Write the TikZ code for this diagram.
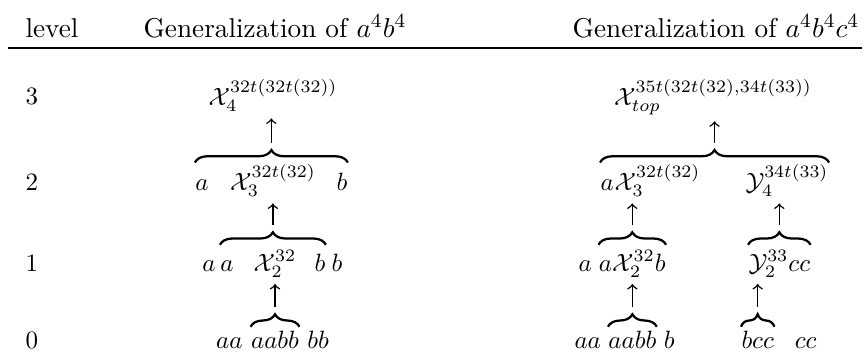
\documentclass[tikz,border=0pt]{standalone}
\usepackage{amsmath, amssymb}
\usetikzlibrary{positioning, decorations.pathreplacing}
\tikzset{
  cell/.style={inner sep=0pt, anchor=base},
  headCell/.style={cell, font=\fontsize{10.9}{13}\selectfont},
  braceTop/.style={decorate, decoration={brace, amplitude=5pt}, line width=0.9pt},
  upArrow/.style={->, semithick, shorten >=2.5pt}
}

\begin{document}
\begin{tikzpicture}[x=0.4pt, y=-0.4pt]
  \useasboundingbox (0,0) rectangle (864,354);
  % header
  \node[headCell, anchor=base west] (lvl) at (25,37) {level};
  \node[headCell] (headL) at (275,37) {Generalization of $a^4b^4$};
  \node[headCell] (headR) at (716,37) {Generalization of $a^4b^4c^4$};
  \draw[line width=0.9pt] (8,48) -- (862,48);

  % level numbers
  \foreach \lv/\yy in {3/104, 2/190, 1/271, 0/348}
    \node[cell, anchor=base west] (num\lv) at (25,\yy) {\lv};

  % left column
  \node[cell] (xFour) at (273,105) {$\mathcal{X}_4^{32t(32t(32))}$};
  \node[cell] (xThree) at (273,190) {$\mathcal{X}_3^{32t(32)}$};
  \node[cell] (aTwo) at (202,190) {$a$};
  \node[cell] (bTwo) at (342,190) {$b$};
  \node[cell] (xTwo) at (275,271) {$\mathcal{X}_2^{32}$};
  \node[cell] (aOneA) at (209,271) {$a$};
  \node[cell] (aOneB) at (227,271) {$a$};
  \node[cell] (bOneA) at (320,271) {$b$};
  \node[cell] (bOneB) at (337,271) {$b$};
  \node[cell] (zMid) at (275,348) {$aabb$};
  \node[cell, base left=3pt of zMid] (zLeft) {$aa$};
  \node[cell, base right=3pt of zMid] (zRight) {$bb$};

  \draw[braceTop] ([yshift=8.5pt]zMid.base west) -- ([yshift=8.5pt]zMid.base east)
    coordinate[midway, yshift=8pt] (tipZ);
  \draw[upArrow] (tipZ) -- (tipZ |- xTwo.south);
  \draw[braceTop] ([yshift=10.5pt]aOneB.base west) -- ([yshift=10.5pt]bOneA.base east)
    coordinate[midway, yshift=8pt] (tipOne);
  \draw[upArrow] (tipOne) -- (tipOne |- xThree.south);
  \draw[braceTop] ([yshift=11pt]aTwo.base west) -- ([yshift=11pt]bTwo.base east)
    coordinate[midway, yshift=8pt] (tipTwo);
  \draw[upArrow] (tipTwo) -- (tipTwo |- xFour.south);

  % right column
  \node[cell] (xTop) at (713,105) {$\mathcal{X}_{top}^{35t(32t(32),34t(33))}$};
  \node[cell, anchor=base west] (raTwo) at (600,190) {$a$};
  \node[cell, base right=0pt of raTwo] (rxThree) {$\mathcal{X}_3^{32t(32)}$};
  \node[cell, anchor=base west] (yFour) at (745,190) {$\mathcal{Y}_4^{34t(33)}$};
  \node[cell, anchor=base west] (raOne) at (578,271) {$a$};
  \node[cell, base right=2.5pt of raOne] (rgOne) {$a\mathcal{X}_2^{32}b$};
  \node[cell, anchor=base west] (yTwo) at (748,271) {$\mathcal{Y}_2^{33}cc$};
  \node[cell, anchor=base west] (rzLeft) at (574,348) {$aa$};
  \node[cell, base right=2.6pt of rzLeft] (rzMid) {$aabb$};
  \node[cell, base right=2.6pt of rzMid] (rzRight) {$b$};
  \node[cell, anchor=base west] (bcc) at (741,348) {$bcc$};
  \node[cell, base right=8pt of bcc] (ccEnd) {$cc$};

  \draw[braceTop] ([yshift=8.5pt]rzMid.base west) -- ([yshift=8.5pt]rzMid.base east)
    coordinate[midway, yshift=8pt] (tipRz);
  \draw[upArrow] (tipRz) -- (tipRz |- rgOne.south);
  \draw[braceTop] ([yshift=8.5pt]bcc.base west) -- ([yshift=8.5pt]bcc.base east)
    coordinate[midway, yshift=8pt] (tipBcc);
  \draw[upArrow] (tipBcc) -- (tipBcc |- yTwo.south);
  \draw[braceTop] ([yshift=10.5pt]rgOne.base west) -- ([yshift=10.5pt]rgOne.base east)
    coordinate[midway, yshift=8pt] (tipRg);
  \draw[upArrow] (tipRg) -- (tipRg |- rxThree.south);
  \draw[braceTop] ([yshift=10.5pt]yTwo.base west) -- ([yshift=10.5pt]yTwo.base east)
    coordinate[midway, yshift=8pt] (tipY);
  \draw[upArrow] (tipY) -- (tipY |- yFour.south);
  \draw[braceTop] ([yshift=11pt]raTwo.base west) -- ([yshift=11pt]yFour.base east)
    coordinate[midway, yshift=8pt] (tipTop);
  \draw[upArrow] (tipTop) -- (tipTop |- xTop.south);
\end{tikzpicture}
\end{document}
